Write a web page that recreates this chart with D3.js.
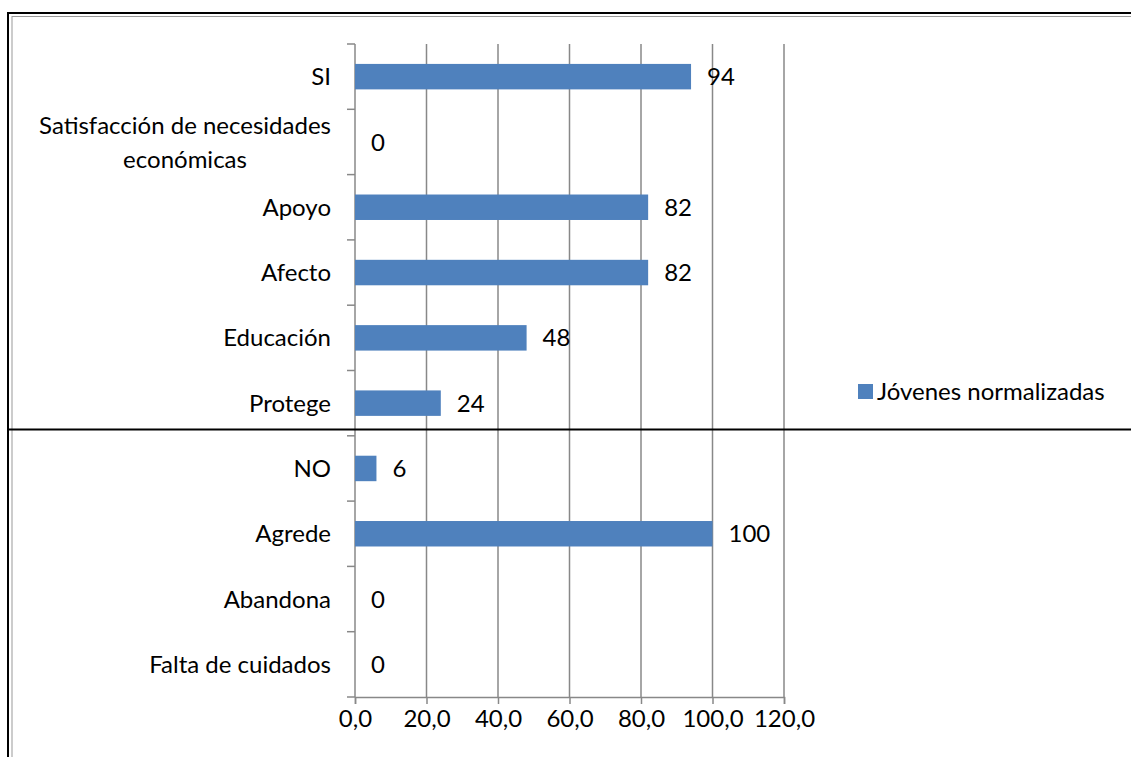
<!DOCTYPE html>
<html>
<head>
<meta charset="utf-8">
<script src="https://cdn.jsdelivr.net/npm/d3@7"></script>
<style>
  body { margin: 0; background: #fff; }
  svg { display: block; font-family: Lato, "Open Sans", sans-serif; }
</style>
</head>
<body>
<svg id="chart"></svg>
<script>
// Data
const categories = ["SI", "Satisfacción de necesidades económicas", "Apoyo", "Afecto", "Educación", "Protege", "NO", "Agrede", "Abandona", "Falta de cuidados"];
const labelLines = [["SI"], ["Satisfacción de necesidades", "económicas"], ["Apoyo"], ["Afecto"], ["Educación"], ["Protege"], ["NO"], ["Agrede"], ["Abandona"], ["Falta de cuidados"]];
const values = [94, 0, 82, 82, 48, 24, 6, 100, 0, 0];
const xTicks = [0, 20, 40, 60, 80, 100, 120];
const seriesName = "Jóvenes normalizadas";

const W = 1131, H = 757;
const svg = d3.select("#chart").attr("width", W).attr("height", H);

// Plot area
const margin = { top: 44, left: 355, right: 784, bottom: 697 };
const fontSize = 24;
const barColor = "#4F81BD";
const gridColor = "#888888";

// Frame around the chart (black outer, gray inner)
svg.append("line").attr("x1", 7).attr("x2", W).attr("y1", 13).attr("y2", 13)
    .attr("stroke", "#000").attr("stroke-width", 2);
svg.append("line").attr("x1", 8).attr("x2", 8).attr("y1", 12).attr("y2", H)
    .attr("stroke", "#000").attr("stroke-width", 2);
svg.append("line").attr("x1", 12).attr("x2", W).attr("y1", 16.5).attr("y2", 16.5)
    .attr("stroke", "#999").attr("stroke-width", 1);
svg.append("line").attr("x1", 12).attr("x2", 12).attr("y1", 16).attr("y2", H)
    .attr("stroke", "#999").attr("stroke-width", 1);

// Scales
const x = d3.scaleLinear()
    .domain([0, 120])
    .range([margin.left, margin.right]);

const p = 0.61;
const y = d3.scaleBand()
    .domain(categories)
    .range([margin.top, margin.bottom])
    .paddingInner(p)
    .paddingOuter(p / 2);

const step = y.step();

// Gridlines
svg.append("g").selectAll("line")
    .data(xTicks.slice(1))
    .enter()
    .append("line")
    .attr("x1", d => x(d)).attr("x2", d => x(d))
    .attr("y1", margin.top).attr("y2", margin.bottom)
    .attr("stroke", gridColor).attr("stroke-width", 1.5);

// X axis
const xAxisGroup = svg.append("g")
    .attr("transform", `translate(0,${margin.bottom})`)
    .call(d3.axisBottom(x)
        .tickValues(xTicks)
        .tickSize(7)
        .tickPadding(6)
        .tickFormat(d => d3.format(".1f")(d).replace(".", ",")));
xAxisGroup.select(".domain").attr("stroke", gridColor).attr("stroke-width", 1.5);
xAxisGroup.selectAll(".tick line").attr("stroke", gridColor).attr("stroke-width", 1.5);
xAxisGroup.selectAll(".tick text")
    .attr("fill", "#000")
    .style("font-size", fontSize + "px")
    .style("font-family", "Lato, sans-serif");

// Y axis line with ticks at category boundaries
svg.append("line")
    .attr("x1", margin.left).attr("x2", margin.left)
    .attr("y1", margin.top).attr("y2", margin.bottom)
    .attr("stroke", gridColor).attr("stroke-width", 1.5);
svg.append("g").selectAll("line")
    .data(d3.range(categories.length + 1))
    .enter()
    .append("line")
    .attr("x1", margin.left - 8).attr("x2", margin.left)
    .attr("y1", i => margin.top + i * step).attr("y2", i => margin.top + i * step)
    .attr("stroke", gridColor).attr("stroke-width", 1.5);

// Bars
svg.append("g").selectAll("rect")
    .data(values)
    .enter()
    .append("rect")
    .attr("x", x(0))
    .attr("y", (d, i) => y(categories[i]))
    .attr("width", d => x(d) - x(0))
    .attr("height", y.bandwidth())
    .attr("fill", barColor);

// Value labels
svg.append("g").selectAll("text")
    .data(values)
    .enter()
    .append("text")
    .attr("x", d => x(d) + 16)
    .attr("y", (d, i) => y(categories[i]) + y.bandwidth() / 2)
    .attr("dy", "0.36em")
    .style("font-size", fontSize + "px")
    .text(d => d);

// Category labels: block right-aligned, lines centred on each other
const labelRight = 331;
labelLines.forEach((lines, i) => {
    const cy = y(categories[i]) + y.bandwidth() / 2;
    const lh = 34;
    const t = svg.append("text")
        .style("font-size", fontSize + "px")
        .attr("text-anchor", "middle");
    lines.forEach((s, j) => {
        t.append("tspan")
            .attr("x", 0)
            .attr("y", cy + (j - (lines.length - 1) / 2) * lh)
            .attr("dy", "0.36em")
            .text(s);
    });
    const w = d3.max(t.selectAll("tspan").nodes(), n => n.getComputedTextLength());
    t.selectAll("tspan").attr("x", labelRight - w / 2);
});

// Legend
const legend = svg.append("g").attr("transform", "translate(858,384)");
legend.append("rect").attr("width", 15).attr("height", 15).attr("fill", barColor);
legend.append("text")
    .attr("x", 19).attr("y", 7.5).attr("dy", "0.36em")
    .style("font-size", fontSize + "px")
    .text(seriesName);

// Horizontal line across the page
svg.append("line").attr("x1", 7).attr("x2", W).attr("y1", 429.5).attr("y2", 429.5)
    .attr("stroke", "#000").attr("stroke-width", 2);
</script>
</body>
</html>
